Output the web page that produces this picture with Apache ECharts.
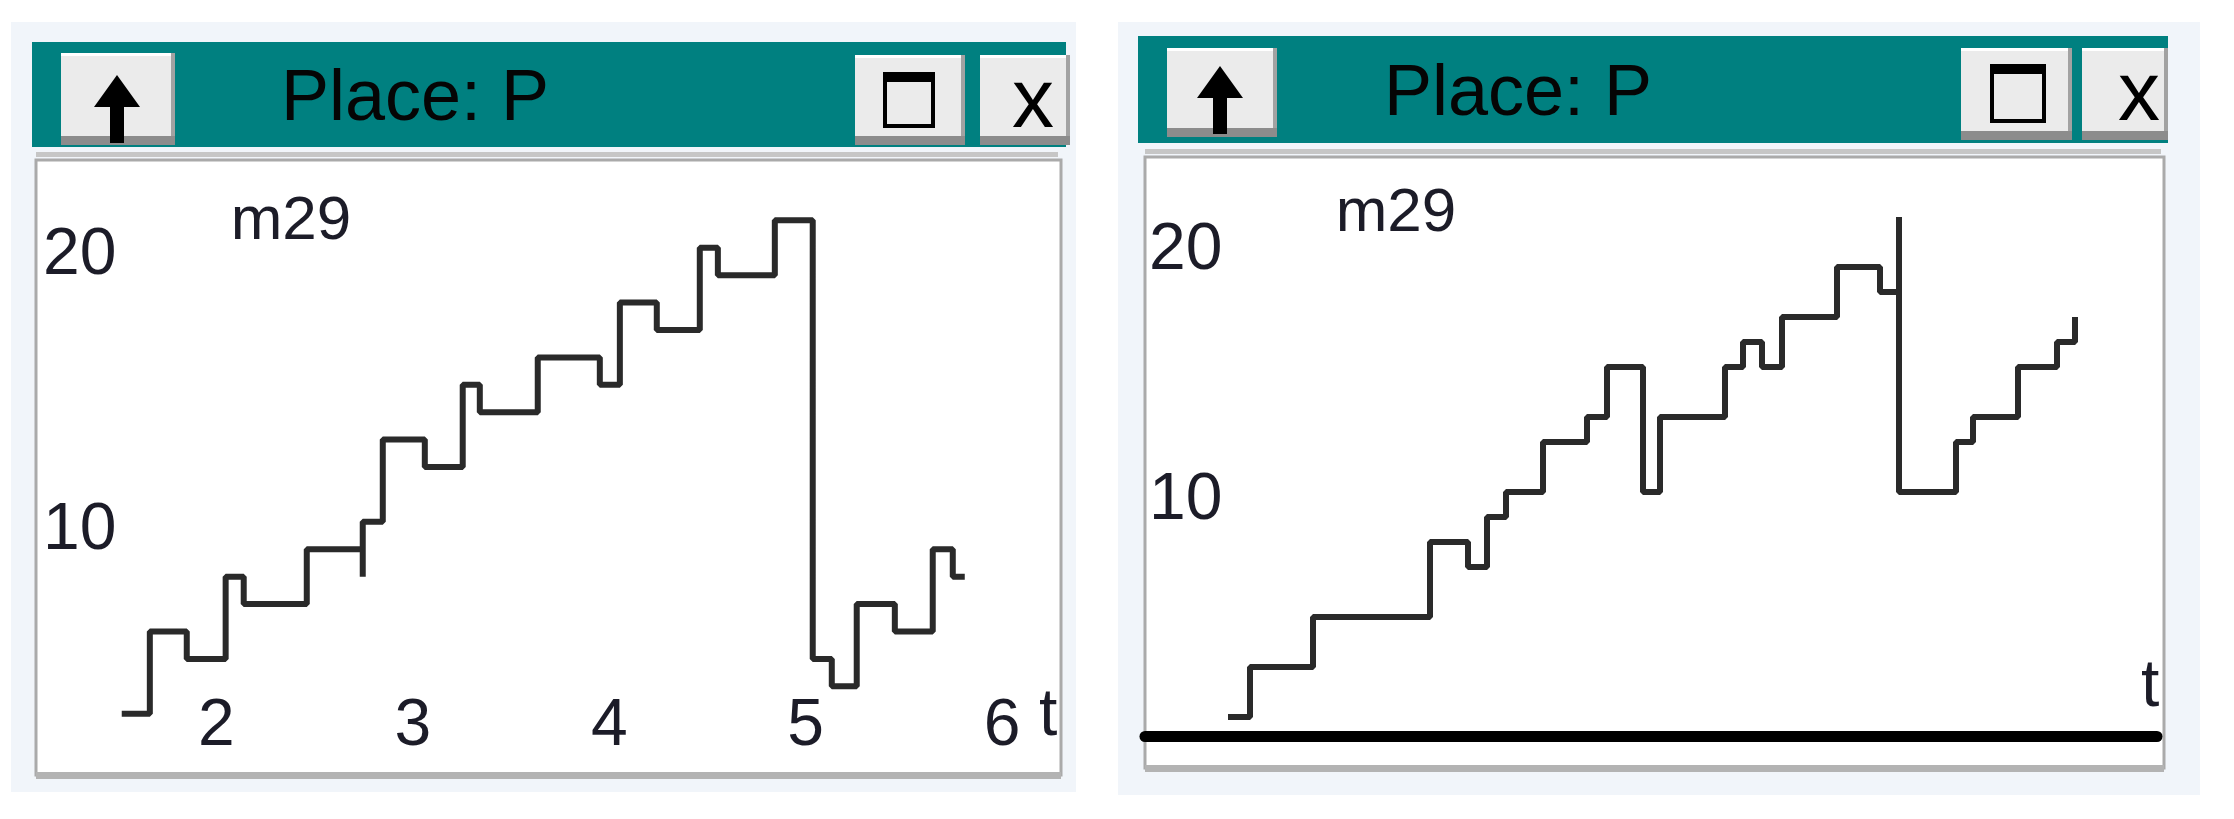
<!DOCTYPE html>
<html>
<head>
<meta charset="utf-8">
<title>Place: P</title>
<script src="https://cdn.jsdelivr.net/npm/echarts@6/dist/echarts.min.js"></script>
<style>
html, body { margin: 0; padding: 0; background: #ffffff; }
#chart { width: 2234px; height: 819px; }
</style>
</head>
<body>
<div id="chart"></div>
<script>
// marking m29 of place P, two runs (left one has a time axis)
const leftTime = [1.518, 1.661, 1.849, 2.047, 2.139, 2.460, 2.745, 2.745, 2.847, 3.061, 3.254, 3.341, 3.636,
  3.952, 4.054, 4.242, 4.461, 4.553, 4.843, 5.036, 5.133, 5.260, 5.454, 5.647, 5.749, 5.810];
const leftTokens = [3, 6, 5, 8, 7, 9, 8, 10, 13, 12, 15, 14, 16, 15, 18, 17, 20, 19, 21, 5, 4, 7, 6, 9, 8, 8];

const rightTime = [0.415, 0.525, 0.84, 1.425, 1.615, 1.71, 1.805, 1.99, 2.21, 2.31, 2.49, 2.575, 2.90, 2.99,
  3.085, 3.185, 3.46, 3.675, 3.77, 3.77, 4.055, 4.14, 4.365, 4.56, 4.65];
const rightTokens = [1, 3, 5, 8, 7, 9, 10, 12, 13, 15, 10, 13, 15, 16, 15, 17, 19, 18, 21, 10, 12, 13, 15, 16, 17];

const leftTimeTicks = [2, 3, 4, 5, 6];
const tokenTicks = [10, 20];
const markingName = 'm29';
const windowTitle = 'Place: P';
const timeName = 't';

const FONT = '"Liberation Sans", Arial, sans-serif';
const TEXT_COLOR = '#1c1c28';
const LINE_COLOR = '#2a2a2a';

function pairs(xs, ys) {
  return xs.map((x, i) => [x, ys[i]]);
}

function button(b) {
  return [
    {type: 'rect', shape: {x: b.x, y: b.y, width: b.w, height: b.h}, style: {fill: '#ebebeb'}},
    {type: 'rect', shape: {x: b.x, y: b.y, width: b.w, height: 3}, style: {fill: '#ffffff'}},
    {type: 'rect', shape: {x: b.x + b.w - 4, y: b.y, width: 4, height: b.h}, style: {fill: '#a2a2a2'}},
    {type: 'rect', shape: {x: b.x, y: b.y + b.h - 9, width: b.w, height: 9}, style: {fill: '#8c8c8c'}}
  ];
}

function windowChrome(w) {
  let els = [];
  els.push({type: 'rect', shape: {x: w.bg[0], y: w.bg[1], width: w.bg[2], height: w.bg[3]}, style: {fill: '#f1f5fa'}});
  els.push({type: 'rect', shape: {x: w.bar[0], y: w.bar[1], width: w.bar[2], height: w.bar[3]}, style: {fill: '#008080'}});
  els = els.concat(button(w.up), button(w.max), button(w.close));
  // up arrow
  const cx = w.arrow[0], ty = w.arrow[1];
  els.push({
    type: 'polygon',
    shape: {points: [[cx, ty], [cx - 23, ty + 32], [cx - 7, ty + 32], [cx - 7, ty + 68],
      [cx + 7, ty + 68], [cx + 7, ty + 32], [cx + 23, ty + 32]]},
    style: {fill: '#000000'}
  });
  // maximize icon
  const m = w.maxIcon;
  els.push({type: 'rect', shape: {x: m[0], y: m[1], width: m[2], height: m[3]}, style: {fill: 'none', stroke: '#000', lineWidth: 4}});
  els.push({type: 'rect', shape: {x: m[0], y: m[1], width: m[2], height: 8}, style: {fill: '#000'}});
  els.push({
    type: 'text', x: w.closeText[0], y: w.closeText[1], z: 10,
    style: {text: 'x', font: '84px ' + FONT, fill: '#000', verticalAlign: 'middle', align: 'left'}
  });
  els.push({
    type: 'text', x: w.title[0], y: w.title[1], z: 10,
    style: {text: windowTitle, font: '72px ' + FONT, fill: '#050505', verticalAlign: 'middle', align: 'left'}
  });
  els.push({type: 'rect', shape: {x: w.sep[0], y: w.sep[1], width: w.sep[2], height: 5}, style: {fill: '#c6c6c6'}});
  const f = w.frame;
  els.push({type: 'rect', shape: {x: f[0], y: f[1], width: f[2], height: f[3]}, style: {fill: '#ffffff', stroke: '#aaaaaa', lineWidth: 3}});
  els.push({type: 'rect', shape: {x: f[0], y: f[1] + f[3] - 3, width: f[2], height: 7}, style: {fill: '#b3b3b3'}});
  els.push({
    type: 'text', x: w.mark[0], y: w.mark[1], z: 10,
    style: {text: markingName, font: '62px ' + FONT, fill: TEXT_COLOR, verticalAlign: 'middle', align: 'center'}
  });
  els.push({
    type: 'text', x: w.tname[0], y: w.tname[1], z: 10,
    style: {text: timeName, font: '66px ' + FONT, fill: TEXT_COLOR, verticalAlign: 'middle', align: 'left'}
  });
  return els;
}

const leftWin = {
  bg: [11, 22, 1065, 770], bar: [32, 42, 1034, 105],
  up: {x: 61, y: 53, w: 114, h: 92}, max: {x: 855, y: 55, w: 110, h: 90}, close: {x: 980, y: 55, w: 90, h: 90},
  arrow: [117, 75], maxIcon: [885, 74, 48, 52], closeText: [1012, 104], title: [281, 100],
  sep: [36, 152, 1022], frame: [36, 160, 1025, 615], mark: [291, 222], tname: [1039, 717]
};
const rightWin = {
  bg: [1118, 22, 1082, 773], bar: [1138, 36, 1030, 107],
  up: {x: 1167, y: 48, w: 110, h: 89}, max: {x: 1961, y: 48, w: 111, h: 92}, close: {x: 2082, y: 48, w: 86, h: 92},
  arrow: [1220, 66], maxIcon: [1992, 66, 52, 55], closeText: [2118, 97], title: [1384, 95],
  sep: [1145, 149, 1016], frame: [1145, 157, 1019, 611], mark: [1396, 214], tname: [2141, 688]
};

// y labels sit a little below their tick in the reference
const tokenLabel = {
  inside: true, color: TEXT_COLOR, fontSize: 66, fontFamily: FONT,
  formatter: (v) => tokenTicks.includes(v) ? '{v|' + v + '}' : '',
  rich: {v: {color: TEXT_COLOR, fontSize: 66, fontFamily: FONT, padding: [17, 0, 0, 0]}}
};

const chart = echarts.init(document.getElementById('chart'));

const option = {
  backgroundColor: '#ffffff',
  animation: false,
  graphic: {elements: windowChrome(leftWin).concat(windowChrome(rightWin))},
  grid: [
    {left: 20, right: 1173, top: 160, bottom: 23},
    {left: 1145, right: 77, top: 157, bottom: 77}
  ],
  xAxis: [
    {
      type: 'value', gridIndex: 0, min: 1, max: 6.3, interval: 1, z: 10,
      axisLine: {show: false}, axisTick: {show: false}, splitLine: {show: false},
      axisLabel: {
        inside: true, margin: 36, color: TEXT_COLOR, fontSize: 66, fontFamily: FONT,
        formatter: (v) => leftTimeTicks.includes(v) ? String(v) : ''
      }
    },
    {
      type: 'value', gridIndex: 1, min: 0, max: 5.06, z: 10, offset: -6,
      axisLine: {show: true, onZero: false, lineStyle: {color: '#000000', width: 11}},
      axisTick: {show: false}, splitLine: {show: false}, axisLabel: {show: false}
    }
  ],
  yAxis: [
    {
      type: 'value', gridIndex: 0, min: 0, max: 23.2, interval: 10, z: 10,
      axisLine: {show: false}, axisTick: {show: false}, splitLine: {show: false},
      axisLabel: Object.assign({margin: 23}, tokenLabel)
    },
    {
      type: 'value', gridIndex: 1, min: 0, max: 23.4, interval: 10, z: 10,
      axisLine: {show: false}, axisTick: {show: false}, splitLine: {show: false},
      axisLabel: Object.assign({margin: 4}, tokenLabel)
    }
  ],
  series: [
    {
      name: markingName, type: 'line', step: 'end', xAxisIndex: 0, yAxisIndex: 0, z: 10,
      showSymbol: false, symbol: 'none',
      lineStyle: {color: LINE_COLOR, width: 6},
      data: pairs(leftTime, leftTokens)
    },
    {
      name: markingName, type: 'line', step: 'end', xAxisIndex: 1, yAxisIndex: 1, z: 10,
      showSymbol: false, symbol: 'none',
      lineStyle: {color: LINE_COLOR, width: 6},
      data: pairs(rightTime, rightTokens)
    }
  ]
};

chart.setOption(option);
</script>
</body>
</html>
